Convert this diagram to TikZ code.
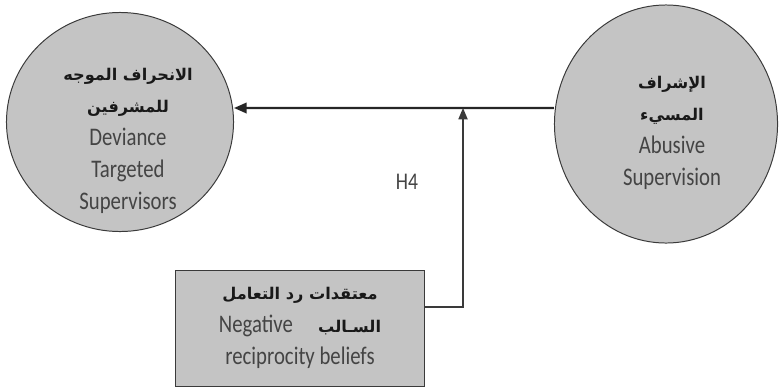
\documentclass[tikz,border=0pt]{standalone}
\usepackage{fontspec}
\setmainfont{Carlito}[FakeStretch=0.82]
\newfontfamily\arabicfont[Script=Arabic]{DejaVu Sans}
\TeXXeTstate=1
\usetikzlibrary{shapes.geometric,arrows.meta}
\definecolor{scangray}{HTML}{C4C4C4}
\definecolor{inkgray}{HTML}{444444}
\definecolor{edgegray}{HTML}{3A3A3A}
\newcommand{\artext}[1]{{\arabicfont\bfseries\fontsize{11.5}{23}\selectfont\color{black!90}\beginR #1\endR}}

\begin{document}
\begin{tikzpicture}[x=0.025cm,y=-0.025cm,
  disc/.style={ellipse,draw=edgegray,fill=scangray,line width=0.7pt,inner sep=0pt},
  panel/.style={rectangle,draw=edgegray,fill=scangray,line width=0.7pt,inner sep=0pt},
  lbl/.style={align=center,text=inkgray,font=\fontsize{18}{23}\selectfont},
  mainarrow/.style={draw=black!85,line width=1.5pt,-{Triangle[length=9pt,width=7.5pt]}},
  modarrow/.style={draw=edgegray,line width=0.9pt,-{Triangle[length=8pt,width=6.5pt]}}]
\useasboundingbox (0,0) rectangle (780,390);
% constructs
\node[disc,minimum width=5.675cm,minimum height=5.475cm] (devi) at (120,122) {};
\node[disc,minimum width=5.575cm,minimum height=5.95cm] (abuse) at (666,124) {};
\node[panel,minimum width=6.225cm,minimum height=2.9cm] (belief) at (300,328) {};
% texts
\node[lbl] (devitxt) at (128,141) {\artext{الانحراف الموجه}\\ \artext{للمشرفين}\\ Deviance\\ Targeted\\ Supervisors};
\node[lbl] (abusetxt) at (672,133) {\artext{الإشراف}\\ \artext{المسيء}\\ Abusive\\ Supervision};
\node[lbl] (belieftxt) at (300,328) {\artext{معتقدات رد التعامل}\\ \hbox{Negative}\quad\hbox{\artext{السـالب}}\\ reciprocity beliefs};
\node[text=inkgray,font=\fontsize{17}{20}\selectfont] (hfour) at (407,182) {H4};
% paths
\coordinate (mod) at (463,108);
\draw[mainarrow] ([yshift=0.4cm]abuse.west) -- ([yshift=0.35cm]devi.east);
\draw[modarrow] ([yshift=0.525cm]belief.east) -| (mod);
\end{tikzpicture}
\end{document}
